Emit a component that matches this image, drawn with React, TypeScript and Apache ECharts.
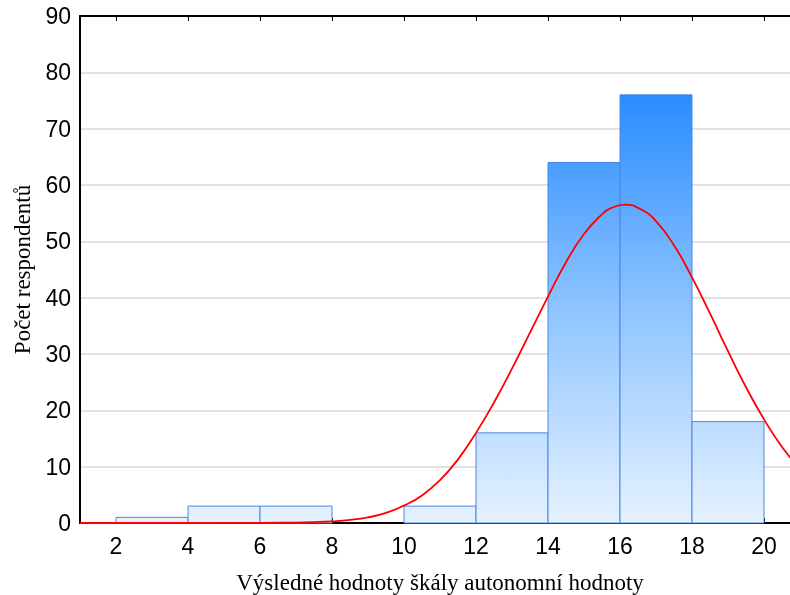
import React, { useEffect, useRef } from "react";
import * as echarts from "echarts";

const binStarts = [2, 4, 6, 8, 10, 12, 14, 16, 18];
const binEnds = [4, 6, 8, 10, 12, 14, 16, 18, 20];
const counts = [1, 3, 3, 0, 3, 16, 64, 76, 18];

const curveX = [1, 2, 3, 4, 5, 6, 7, 7.5, 8, 8.5, 9, 9.5, 10, 10.5, 11, 11.5, 12, 12.5, 13, 13.5, 14, 14.5, 15, 15.5, 15.75, 16.15, 16.6, 17, 17.5, 18, 18.5, 19, 19.5, 20, 20.5, 21];
const curveY = [0, 0, 0, 0, 0.01, 0.03, 0.08, 0.16, 0.3, 0.55, 1.0, 1.8, 3.1, 4.9, 7.6, 11.3, 16, 21.4, 27.4, 33.8, 40.2, 46.3, 51.3, 54.8, 55.9, 56.5, 55.6, 53.6, 49.3, 43.6, 37.2, 30.5, 24.1, 18.4, 13.5, 9.6];

const xTicks = [2, 4, 6, 8, 10, 12, 14, 16, 18, 20];
const xTitle = "Výsledné hodnoty škály autonomní hodnoty";
const yTitle = "Počet respondentů";

export default function App() {
  const ref = useRef<HTMLDivElement>(null);
  useEffect(() => {
    if (!ref.current) return;
    const chart = echarts.init(ref.current, undefined, { renderer: "svg" });
    const bins = binStarts.map((s, i) => [s, binEnds[i], counts[i]]);
    const curve = curveX.map((x, i) => [x, curveY[i]]);
    const fill = new echarts.graphic.LinearGradient(
      0, 523, 0, 95,
      [
        { offset: 0, color: "#e6f2ff" },
        { offset: 0.5, color: "#8ec4ff" },
        { offset: 1, color: "#2a8cff" },
      ],
      true
    );
    chart.setOption({
      animation: false,
      grid: { left: 80, top: 16, width: 720, height: 507, outerBoundsMode: "none", containLabel: false },
      xAxis: [
        {
          type: "value",
          min: 1,
          max: 21,
          position: "bottom",
          name: xTitle,
          nameLocation: "middle",
          nameGap: 48,
          nameTextStyle: { fontFamily: "Liberation Serif", fontSize: 23, color: "#000" },
          axisLine: { show: true, onZero: false, lineStyle: { color: "#000", width: 2 } },
          axisTick: { show: true, inside: true, length: 5, customValues: xTicks, lineStyle: { color: "#000" } },
          axisLabel: { customValues: xTicks, fontFamily: "Liberation Sans", fontSize: 23, color: "#000", margin: 11 },
          splitLine: { show: false },
        },
        {
          type: "value",
          min: 1,
          max: 21,
          position: "top",
          axisLine: { show: true, onZero: false, lineStyle: { color: "#000", width: 2 } },
          axisTick: { show: true, inside: true, length: 5, customValues: xTicks, lineStyle: { color: "#000" } },
          axisLabel: { show: false },
          splitLine: { show: false },
        },
      ],
      yAxis: {
        type: "value",
        min: 0,
        max: 90,
        interval: 10,
        name: yTitle,
        nameLocation: "middle",
        nameGap: 46,
        nameTextStyle: { fontFamily: "Liberation Serif", fontSize: 23, color: "#000" },
        axisLine: { show: true, lineStyle: { color: "#000", width: 2 } },
        axisTick: { show: false },
        axisLabel: { fontFamily: "Liberation Sans", fontSize: 23, color: "#000", margin: 9 },
        splitLine: { show: true, lineStyle: { color: "#d9d9d9", width: 1.5 } },
      },
      series: [
        {
          type: "custom",
          data: bins,
          encode: { x: [0, 1], y: 2 },
          renderItem: (params: any, api: any) => {
            const s = api.value(0);
            const e = api.value(1);
            const c = api.value(2);
            if (c <= 0) return null;
            const p0 = api.coord([s, c]);
            const p1 = api.coord([e, 0]);
            return {
              type: "rect",
              shape: { x: p0[0], y: p0[1], width: p1[0] - p0[0], height: p1[1] - p0[1] },
              style: { fill, stroke: "#4a86e6", lineWidth: 1 },
            };
          },
          z: 2,
        },
        {
          type: "line",
          data: curve,
          smooth: true,
          showSymbol: false,
          lineStyle: { color: "#ff0000", width: 1.8 },
          z: 3,
        },
      ],
    });
    return () => chart.dispose();
  }, []);
  return <div ref={ref} style={{ position: "fixed", left: 0, top: 0, width: 820, height: 595 }} />;
}
